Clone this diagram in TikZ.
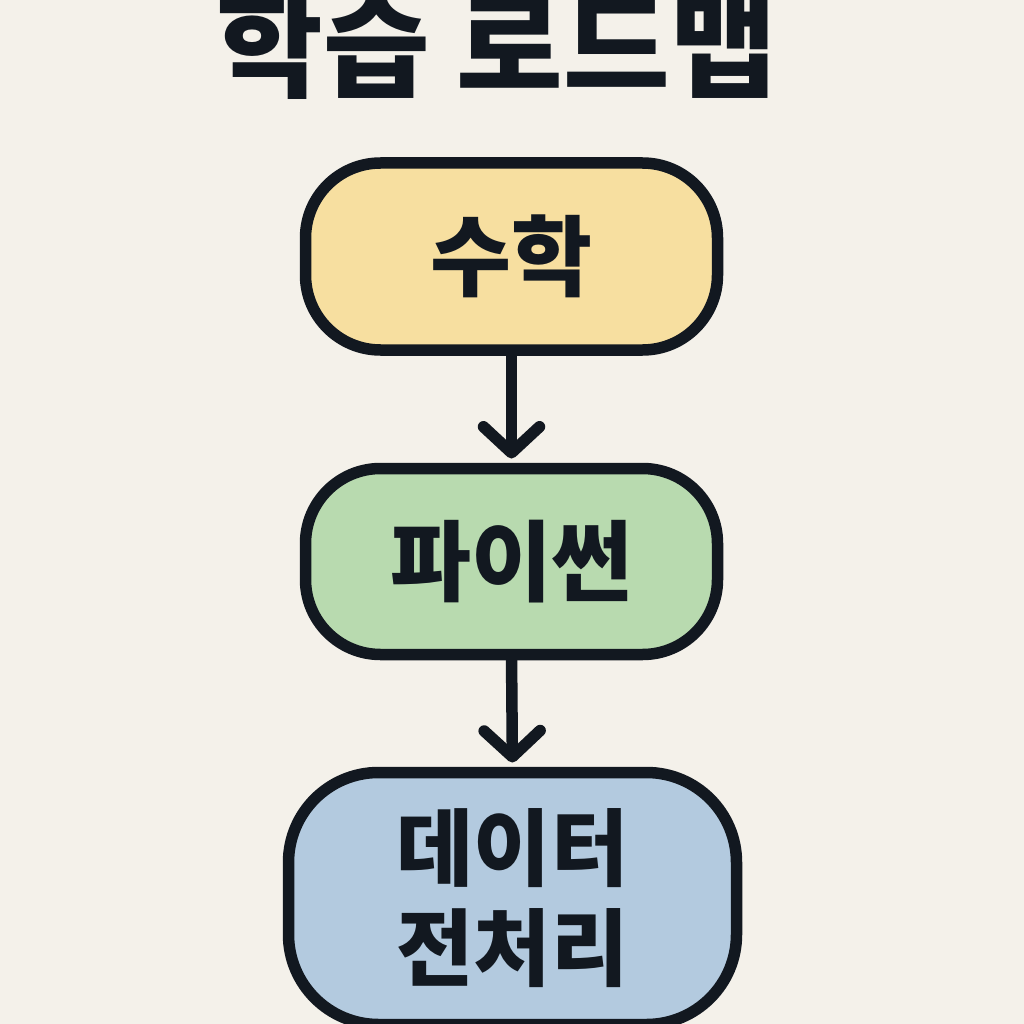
\documentclass[tikz,border=0pt]{standalone}
\usepackage{fontspec}
\newfontfamily\kr{Noto Sans CJK KR}
\newfontfamily\krblack{Noto Sans CJK KR Black}
\usetikzlibrary{arrows.meta}
\definecolor{bg}{HTML}{F4F1EA}
\definecolor{ink}{HTML}{121820}
\definecolor{yel}{HTML}{F7DFA0}
\definecolor{grn}{HTML}{B8DAAF}
\definecolor{blu}{HTML}{B3CADF}
\tikzset{
  box/.style={draw=ink, line width=11.5pt, inner sep=0pt, outer sep=0pt,
    text=ink, font=\kr\bfseries\fontsize{88}{100}\selectfont, align=center},
  arr/.style={draw=ink, line width=11.5pt,
    -{Straight Barb[length=26pt,width=56pt,line cap=round,line join=round]}},
}
\begin{document}
\begin{tikzpicture}[x=1pt,y=-1pt]
\useasboundingbox (0,0) rectangle (1024,1024);
\clip (0,0) rectangle (1024,1024);
\fill[bg] (0,0) rectangle (1024,1024);
\node[anchor=base, text=ink, font=\krblack\fontsize{116}{120}\selectfont, inner sep=0pt] (title) at (497,89) {학습 로드맵};
\node[box, fill=yel, rounded corners=75pt, minimum width=412pt, minimum height=187pt] (b1) at (511.5,256.5) {수학};
\node[box, fill=grn, rounded corners=75pt, minimum width=412pt, minimum height=186pt] (b2) at (511.5,561.5) {파이썬};
\node[box, fill=blu, rounded corners=90pt, minimum width=448pt, minimum height=252pt, font=\kr\bfseries\fontsize{84}{100}\selectfont] (b3) at (512.5,898.5) {데이터\\전처리};
\draw[arr, shorten >=10pt] (b1.south) -- (b2.north);
\draw[arr, shorten >=10pt] (b2.south) -- (b3.north);
\end{tikzpicture}
\end{document}
